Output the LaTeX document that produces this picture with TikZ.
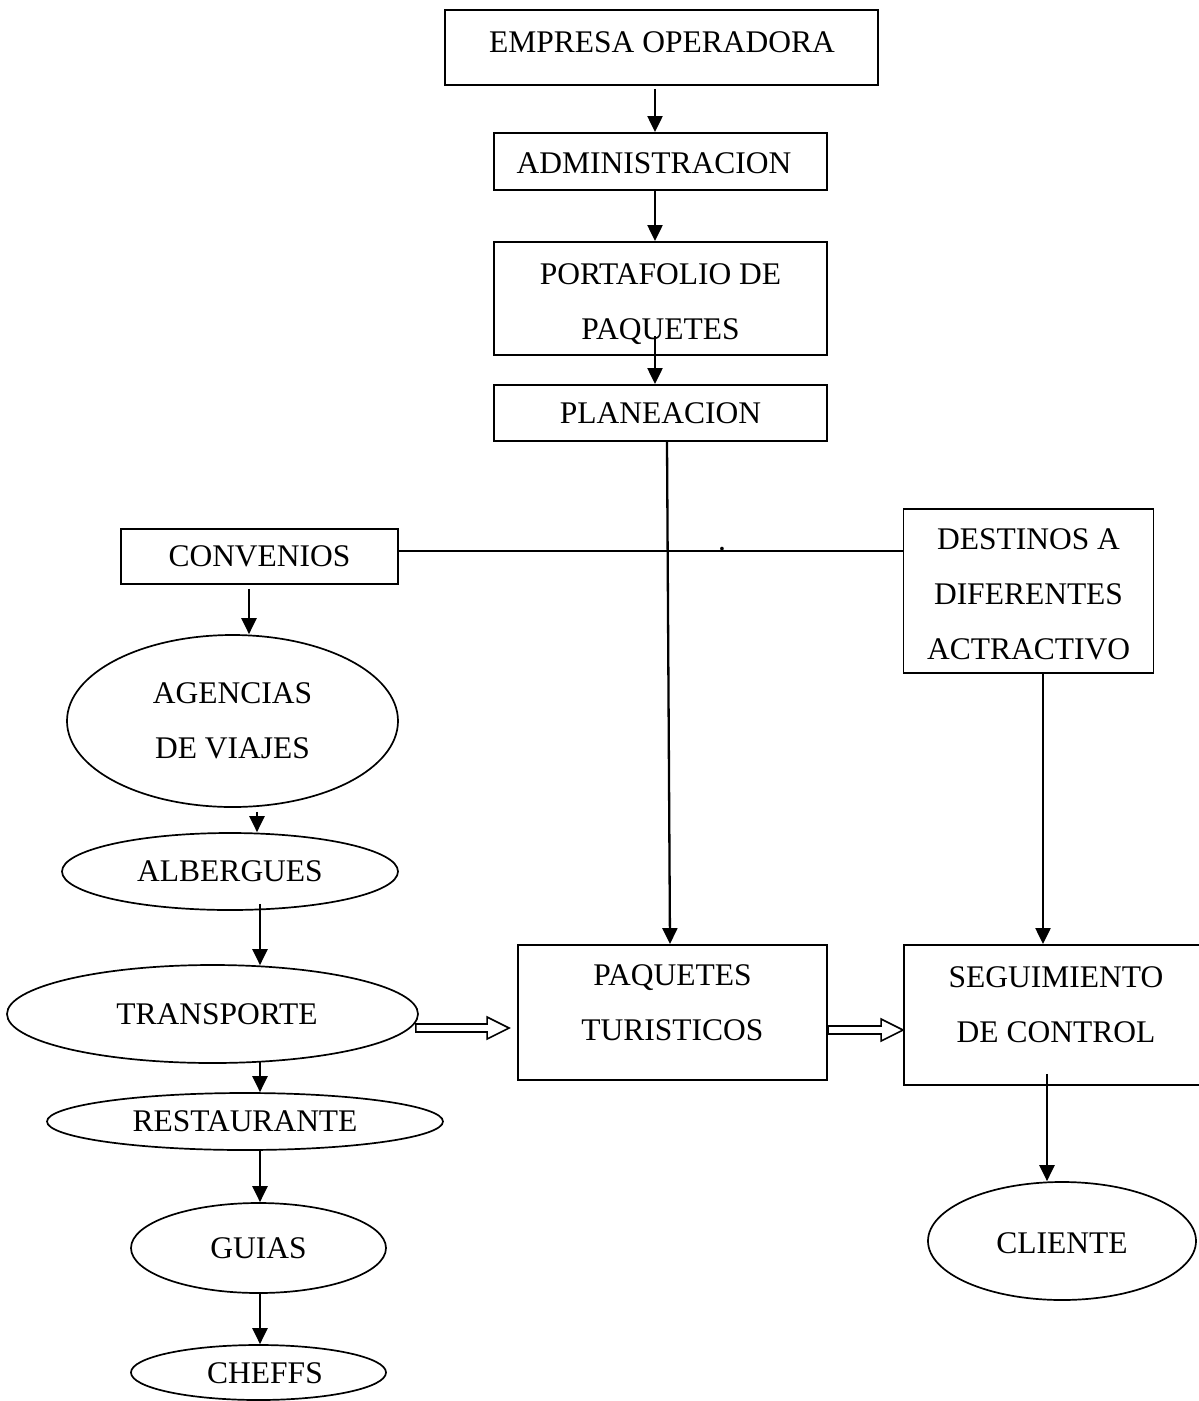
\documentclass[tikz,border=0pt]{standalone}
\usepackage{fontspec}
\setmainfont{Liberation Serif}
\usetikzlibrary{shapes.geometric,arrows.meta,calc}

\tikzset{
  every node/.style={font=\fontsize{31.5}{55}\selectfont, align=center, inner sep=0pt},
  boxnode/.style={draw, line width=1.9pt, rectangle},
  ovalnode/.style={draw, line width=1.7pt, ellipse},
  flow/.style={line width=2.3pt, -{Triangle[length=16pt,width=15pt]}},
  plainline/.style={line width=1.9pt},
  hollow/.style={line width=1.6pt, fill=white}
}

% open block arrow between two points at the height of the first one
\newcommand\blockarrow[2]{%
  \draw[hollow] let \p1=(#1), \p2=(#2) in
    (\x1,\y1+4pt) -- (\x2-22pt,\y1+4pt) -- (\x2-22pt,\y1+11pt) -- (\x2,\y1)
    -- (\x2-22pt,\y1-11pt) -- (\x2-22pt,\y1-4pt) -- (\x1,\y1-4pt) -- cycle;}

\begin{document}
\begin{tikzpicture}[x=1pt,y=-1pt]
\useasboundingbox (0,0) rectangle (1199,1401);

% central column
\node[boxnode, minimum width=433pt, minimum height=75pt] (emp) at (661.5,47.5) {};
\node (empt) at (662,42) {EMPRESA OPERADORA};
\node[boxnode, minimum width=333pt, minimum height=57pt] (adm) at (660.5,161.5) {};
\node (admt) at (654,163) {ADMINISTRACION};
\node[boxnode, minimum width=333pt, minimum height=113pt] (port) at (660.5,298.5) {};
\node (portt) at (660.5,304) {PORTAFOLIO DE\\PAQUETES};
\node[boxnode, minimum width=333pt, minimum height=56pt] (plan) at (660.5,413) {PLANEACION};

% partners column
\node[boxnode, minimum width=277pt, minimum height=55pt] (conv) at (259.5,556.5) {CONVENIOS};
\node[ovalnode, minimum width=331pt, minimum height=172pt] (agen) at (232.5,721) {AGENCIAS\\DE VIAJES};
\node[ovalnode, minimum width=336pt, minimum height=77pt] (alb) at (230,871.5) {ALBERGUES};
\node[ovalnode, minimum width=411pt, minimum height=98pt] (trans) at (212.5,1014) {};
\node (transt) at (217,1014) {TRANSPORTE};
\node[ovalnode, minimum width=396pt, minimum height=57pt] (rest) at (245,1121.5) {RESTAURANTE};
\node[ovalnode, minimum width=255pt, minimum height=90pt] (guia) at (258.5,1248) {GUIAS};
\node[ovalnode, minimum width=255pt, minimum height=55pt] (chef) at (258.5,1372.5) {};
\node (cheft) at (265,1373) {CHEFFS};

% right side
\node[boxnode, minimum width=250pt, minimum height=164pt] (dest) at (1028.5,591) {};
\node (destt) at (1028.5,594) {DESTINOS A\\DIFERENTES\\ACTRACTIVO};
\node[boxnode, minimum width=309pt, minimum height=135pt] (paq) at (672.5,1012.5) {};
\node (paqt) at (672.5,1003) {PAQUETES\\TURISTICOS};
\node[boxnode, minimum width=304pt, minimum height=140pt] (seg) at (1056,1015) {};
\node (segt) at (1056,1005) {SEGUIMIENTO\\DE CONTROL};
\node[ovalnode, minimum width=268pt, minimum height=118pt] (cli) at (1062,1241) {};
\node (clit) at (1062,1243) {CLIENTE};

% vertical flow
\draw[flow] ($(emp.south)+(-6.5,3)$) -- ($(adm.north)+(-5.5,0)$);
\draw[flow] ($(adm.south)+(-5.5,0)$) -- ($(port.north)+(-5.5,0)$);
\draw[flow] ($(port.south)+(-5.5,-20)$) -- ($(plan.north)+(-5.5,0)$);
\draw[flow] ($(plan.south)+(6.5,0)$) -- ($(paq.north)+(-2.5,0)$);

% link between agreements and destinations
\coordinate (cj) at ($(conv.east)+(0,-5.5)$);
\draw[plainline] (cj) -- (dest.west |- cj);
\node[anchor=base] (pt) at (722,550) {.};

\draw[flow] ($(conv.south)+(-10.5,4)$) -- ($(agen.north)+(16.5,0)$);
\draw[flow] ($(agen.south)+(24.5,4)$) -- ($(alb.north)+(27,0)$);
\draw[flow] ($(alb.south)+(30,-7)$) -- ($(trans.north)+(47.5,1)$);
\draw[flow] ($(trans.south)+(47.5,-2)$) -- ($(rest.north)+(15,0)$);
\draw[flow] ($(rest.south)+(15,0)$) -- ($(guia.north)+(1.5,0)$);
\draw[flow] ($(guia.south)+(1.5,0)$) -- ($(chef.north)+(1.5,0)$);

\draw[flow] ($(dest.south)+(14.5,0)$) -- ($(seg.north)+(-13,0)$);
\draw[flow] ($(seg.south)+(-9,-12)$) -- ($(cli.north)+(-15,0)$);

% block arrows into and out of the packages
\coordinate (ta) at ($(trans.east)+(-3,14)$);
\coordinate (tb) at ($(paq.west)+(-8,0)$);
\blockarrow{ta}{tb}
\coordinate (pa) at ($(paq.east)+(0,17.5)$);
\coordinate (pb) at ($(seg.west)+(0,0)$);
\blockarrow{pa}{pb}
\end{tikzpicture}
\end{document}
